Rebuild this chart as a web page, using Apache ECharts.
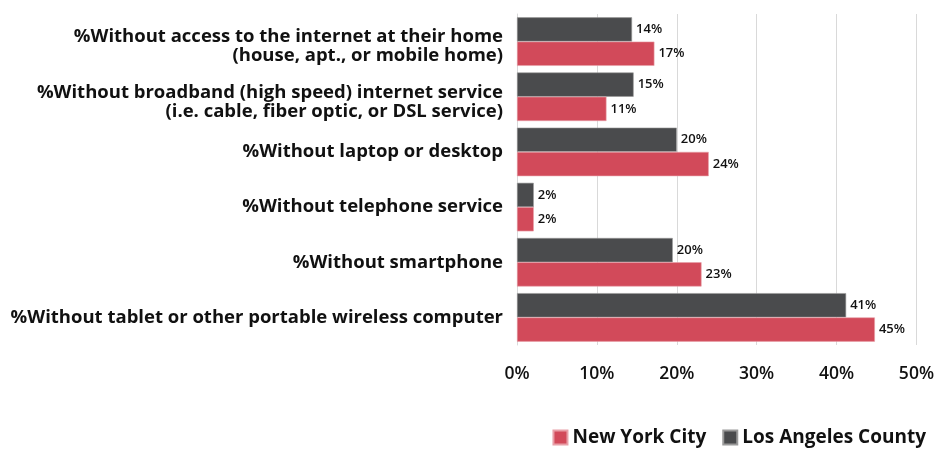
<!DOCTYPE html>
<html><head><meta charset="utf-8">
<script src="https://cdn.jsdelivr.net/npm/echarts@6/dist/echarts.min.js"></script>
<style>html,body{margin:0;padding:0;background:#fff}#c{width:937px;height:449px}</style>
</head><body><div id="c"></div>
<script>
const categories = [
  "%Without access to the internet at their home\n(house, apt., or mobile home)",
  "%Without broadband (high speed) internet service\n(i.e. cable, fiber optic, or DSL service)",
  "%Without laptop or desktop",
  "%Without telephone service",
  "%Without smartphone",
  "%Without tablet or other portable wireless computer"
];
const newYorkCity = [17.2, 11.2, 24.0, 2.1, 23.1, 44.8];
const losAngelesCounty = [14.4, 14.6, 20.0, 2.1, 19.5, 41.2];
const xTicks = [0, 10, 20, 30, 40, 50];

const FONT = 'Open Sans';
const chart = echarts.init(document.getElementById('c'));
const lbl = {show: true, position: 'right', distance: 4, color: '#111', fontFamily: FONT, fontWeight: 600, fontSize: 13,
  formatter: p => Math.round(p.value) + '%'};
const yFont = {fontFamily: FONT, fontWeight: 'bold', fontSize: 18.5, color: '#111'};
chart.setOption({
  animation: false,
  grid: {left: 517, right: 20, top: 14, bottom: 104, containLabel: false},
  legend: {
    data: ['New York City', 'Los Angeles County'],
    right: 6, bottom: -3, itemWidth: 14, itemHeight: 14, itemGap: 16,
    icon: 'rect',
    textStyle: {fontFamily: FONT, fontWeight: 'bold', fontSize: 19, color: '#111'}
  },
  xAxis: {
    type: 'value', min: 0, max: 50, interval: 10,
    axisLabel: {formatter: v => xTicks.includes(v) ? v + '%' : '', fontFamily: FONT, fontWeight: 600, fontSize: 17.5, color: '#111', margin: 20},
    splitLine: {show: true, lineStyle: {color: '#d9d9d9', width: 1}},
    axisLine: {show: false}, axisTick: {show: false}
  },
  yAxis: {
    type: 'category', data: categories, inverse: true,
    axisLine: {show: true, lineStyle: {color: '#d9d9d9'}}, axisTick: {show: false},
    axisLabel: Object.assign({}, yFont, {margin: 14, lineHeight: 19, align: 'right',
      formatter: v => v.includes('\n')
        ? v.split('\n').map((s, i) => (i === 0 ? '{t|' : '{b|') + s + '}').join('\n')
        : v,
      rich: {
        t: Object.assign({}, yFont, {lineHeight: 29, verticalAlign: 'bottom'}),
        b: Object.assign({}, yFont, {lineHeight: 19})
      }})
  },
  series: [
    {name: 'Los Angeles County', type: 'bar', data: losAngelesCounty, barCategoryGap: '12%', barGap: '0%',
      itemStyle: {color: '#4a4b4d', borderColor: '#9a9a9a', borderWidth: 0.6}, label: lbl},
    {name: 'New York City', type: 'bar', data: newYorkCity, barCategoryGap: '12%', barGap: '0%',
      itemStyle: {color: '#d24a5a', borderColor: '#e8a0a8', borderWidth: 0.6}, label: lbl}
  ]
});
</script></body></html>
